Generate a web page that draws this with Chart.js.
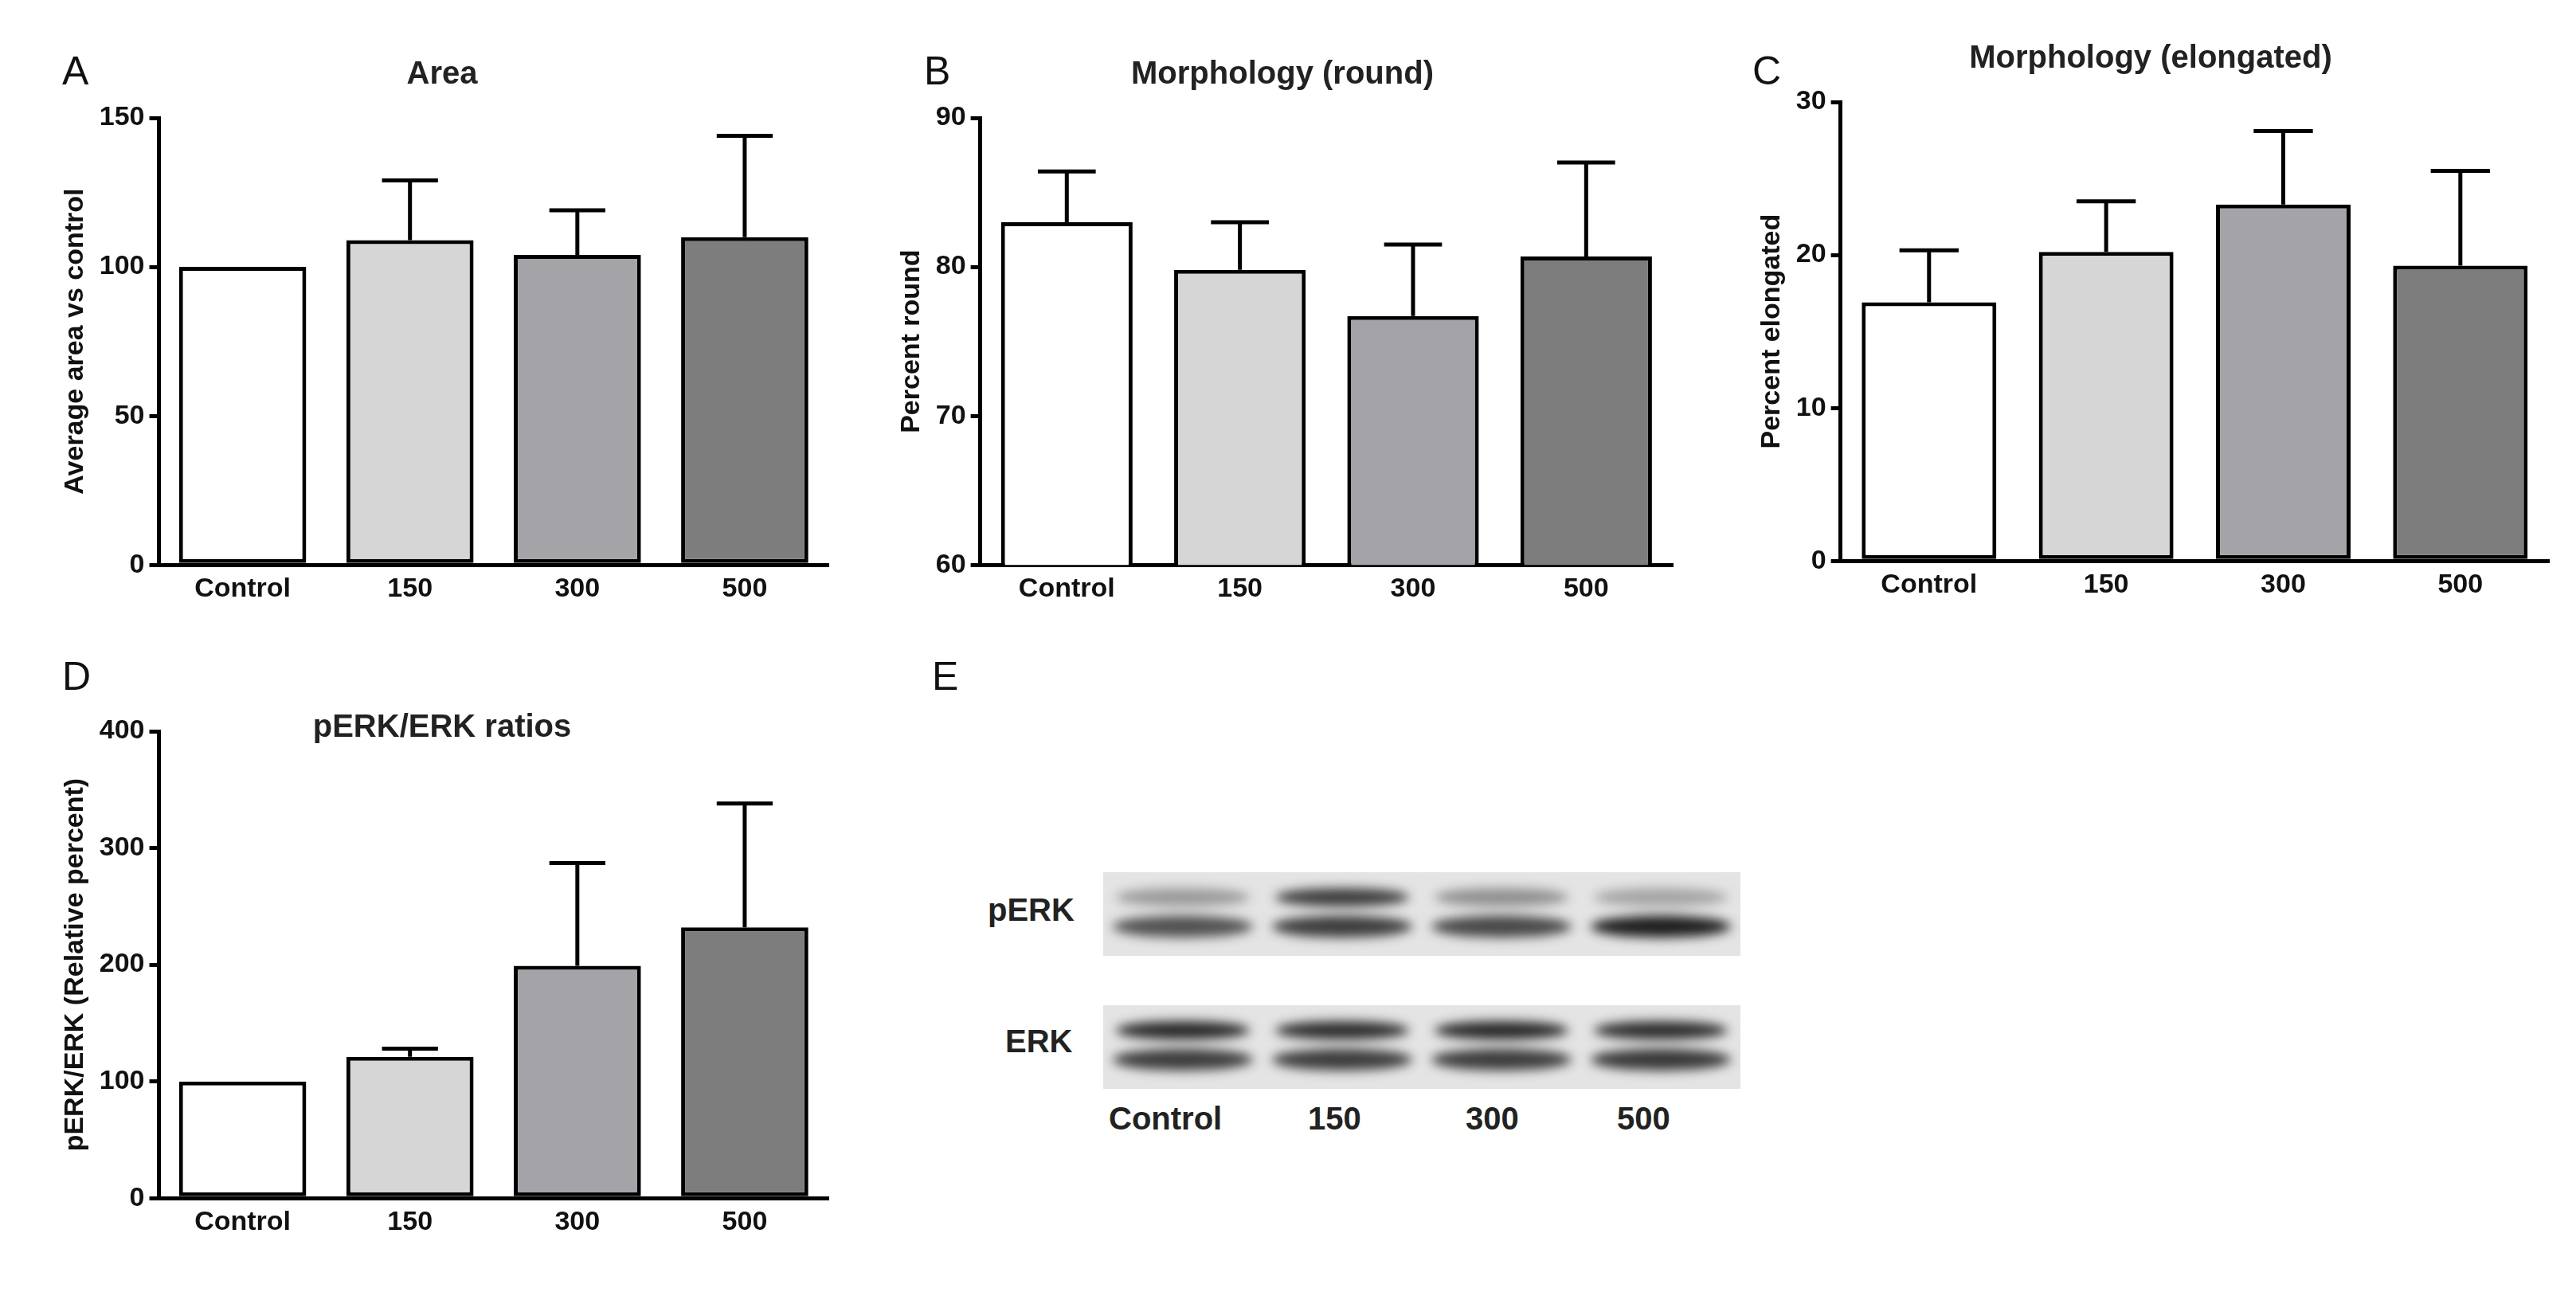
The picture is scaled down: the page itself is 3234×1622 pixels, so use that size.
<!DOCTYPE html>
<html><head><meta charset="utf-8">
<script src="https://cdn.jsdelivr.net/npm/chart.js@4.4.1/dist/chart.umd.min.js"></script>
<style>
body{margin:0;background:#fff;width:3234px;height:1622px;position:relative;overflow:hidden;font-family:"Liberation Sans",Arial,sans-serif}
.box{position:absolute}
.lbl{position:absolute;font-size:50px;color:#111}
.blotlbl{position:absolute;font-weight:bold;font-size:40px;color:#222}
</style></head><body>
<div class="lbl" style="left:78px;top:60px">A</div>
<div class="lbl" style="left:1160px;top:60px">B</div>
<div class="lbl" style="left:2200px;top:60px">C</div>
<div class="lbl" style="left:78px;top:820px">D</div>
<div class="lbl" style="left:1170px;top:820px">E</div>
<div class="box" style="left:70px;top:70px;width:980px;height:700px"><canvas id="cA"></canvas></div>
<div class="box" style="left:1120px;top:70px;width:990px;height:700px"><canvas id="cB"></canvas></div>
<div class="box" style="left:2200px;top:50px;width:1010px;height:715px"><canvas id="cC"></canvas></div>
<div class="box" style="left:70px;top:850px;width:980px;height:715px"><canvas id="cD"></canvas></div>
<canvas id="blot" width="800" height="290" style="position:absolute;left:1385px;top:1090px"></canvas>
<div class="blotlbl" style="left:1240px;top:1120px">pERK</div>
<div class="blotlbl" style="left:1262px;top:1285px">ERK</div>
<div class="blotlbl" style="left:1392px;top:1382px">Control</div>
<div class="blotlbl" style="left:1642px;top:1382px">150</div>
<div class="blotlbl" style="left:1840px;top:1382px">300</div>
<div class="blotlbl" style="left:2030px;top:1382px">500</div>
<script>
const categories = ['Control', '150', '300', '500'];
const barColors = ['#ffffff', '#d6d6d6', '#a4a4a8', '#7d7d7d'];

const areaValues = [100, 109, 104, 110];
const areaErrors = [0, 20, 15, 34];
const roundValues = [83, 79.8, 76.7, 80.7];
const roundErrors = [3.4, 3.2, 4.8, 6.3];
const elongValues = [16.9, 20.2, 23.3, 19.3];
const elongErrors = [3.4, 3.3, 4.8, 6.2];
const perkValues = [100, 121, 199, 232];
const perkErrors = [0, 7, 88, 106];

// blot band intensities (0..1), upper and lower band per lane
const perkUpper = [0.35, 0.8, 0.4, 0.3];
const perkLower = [0.7, 0.8, 0.75, 0.95];
const erkUpper = [0.9, 0.88, 0.9, 0.88];
const erkLower = [0.8, 0.8, 0.8, 0.82];

const errorBars = {
    id: 'errorBars',
    afterDatasetsDraw(chart) {
        const errs = chart.options.plugins.errorBars.errors;
        const meta = chart.getDatasetMeta(0);
        const y = chart.scales.y;
        const ctx = chart.ctx;
        ctx.save();
        ctx.strokeStyle = '#000';
        ctx.lineWidth = 5;
        meta.data.forEach((bar, i) => {
            if (!errs[i]) return;
            const v = chart.data.datasets[0].data[i];
            const top = y.getPixelForValue(v + errs[i]);
            const half = bar.width * 0.22;
            ctx.beginPath();
            ctx.moveTo(bar.x, bar.y);
            ctx.lineTo(bar.x, top);
            ctx.moveTo(bar.x - half, top);
            ctx.lineTo(bar.x + half, top);
            ctx.stroke();
        });
        ctx.restore();
    }
};

function makeChart(id, values, errors, min, max, step, yTitle, title, titleInside) {
    new Chart(document.getElementById(id), {
        type: 'bar',
        data: { labels: categories, datasets: [{ data: values, backgroundColor: barColors, borderColor: '#000', borderWidth: 5, borderSkipped: false, barPercentage: 0.76, categoryPercentage: 1 }] },
        options: {
            responsive: true, maintainAspectRatio: false, animation: false,
            layout: { padding: { top: titleInside ? 40 : 0, right: 10 } },
            plugins: {
                legend: { display: false }, tooltip: { enabled: false },
                title: { display: true, text: title, color: '#222', font: { size: 40, weight: 'bold', family: 'Liberation Sans' }, padding: { bottom: titleInside ? -20 : 30 } },
                errorBars: { errors }
            },
            scales: {
                x: {
                    grid: { display: true, drawOnChartArea: false, drawTicks: false },
                    border: { color: '#000', width: 5 },
                    ticks: { color: '#111', font: { size: 34, weight: 'bold', family: 'Liberation Sans' }, padding: 10 }
                },
                y: {
                    min, max,
                    grid: { drawOnChartArea: false, color: '#000', lineWidth: 5, tickLength: 12 },
                    border: { color: '#000', width: 5 },
                    ticks: { stepSize: step, color: '#111', font: { size: 34, weight: 'bold', family: 'Liberation Sans' }, padding: 6 },
                    title: { display: true, text: yTitle, color: '#111', font: { size: 34, weight: 'bold', family: 'Liberation Sans' } }
                }
            }
        },
        plugins: [errorBars]
    });
}

makeChart('cA', areaValues, areaErrors, 0, 150, 50, 'Average area vs control', 'Area');
makeChart('cB', roundValues, roundErrors, 60, 90, 10, 'Percent round', 'Morphology (round)');
makeChart('cC', elongValues, elongErrors, 0, 30, 10, 'Percent elongated', 'Morphology (elongated)');
makeChart('cD', perkValues, perkErrors, 0, 400, 100, 'pERK/ERK (Relative percent)', 'pERK/ERK ratios', true);

// western blot strips
const bctx = document.getElementById('blot').getContext('2d');
function strip(y0, h, upper, lower) {
    bctx.fillStyle = '#e4e4e4';
    bctx.fillRect(0, y0, 800, h);
    bctx.save();
    bctx.filter = 'blur(7px)';
    const laneW = 800 / 4;
    upper.forEach((a, i) => {
        bctx.fillStyle = `rgba(20,20,20,${a})`;
        bctx.beginPath();
        bctx.ellipse(laneW * i + laneW / 2, y0 + h * 0.3, laneW * 0.42, h * 0.11, 0, 0, Math.PI * 2);
        bctx.fill();
    });
    lower.forEach((a, i) => {
        bctx.fillStyle = `rgba(20,20,20,${a})`;
        bctx.beginPath();
        bctx.ellipse(laneW * i + laneW / 2, y0 + h * 0.65, laneW * 0.44, h * 0.13, 0, 0, Math.PI * 2);
        bctx.fill();
    });
    bctx.restore();
}
strip(5, 105, perkUpper, perkLower);
strip(172, 105, erkUpper, erkLower);
</script>
</body></html>
